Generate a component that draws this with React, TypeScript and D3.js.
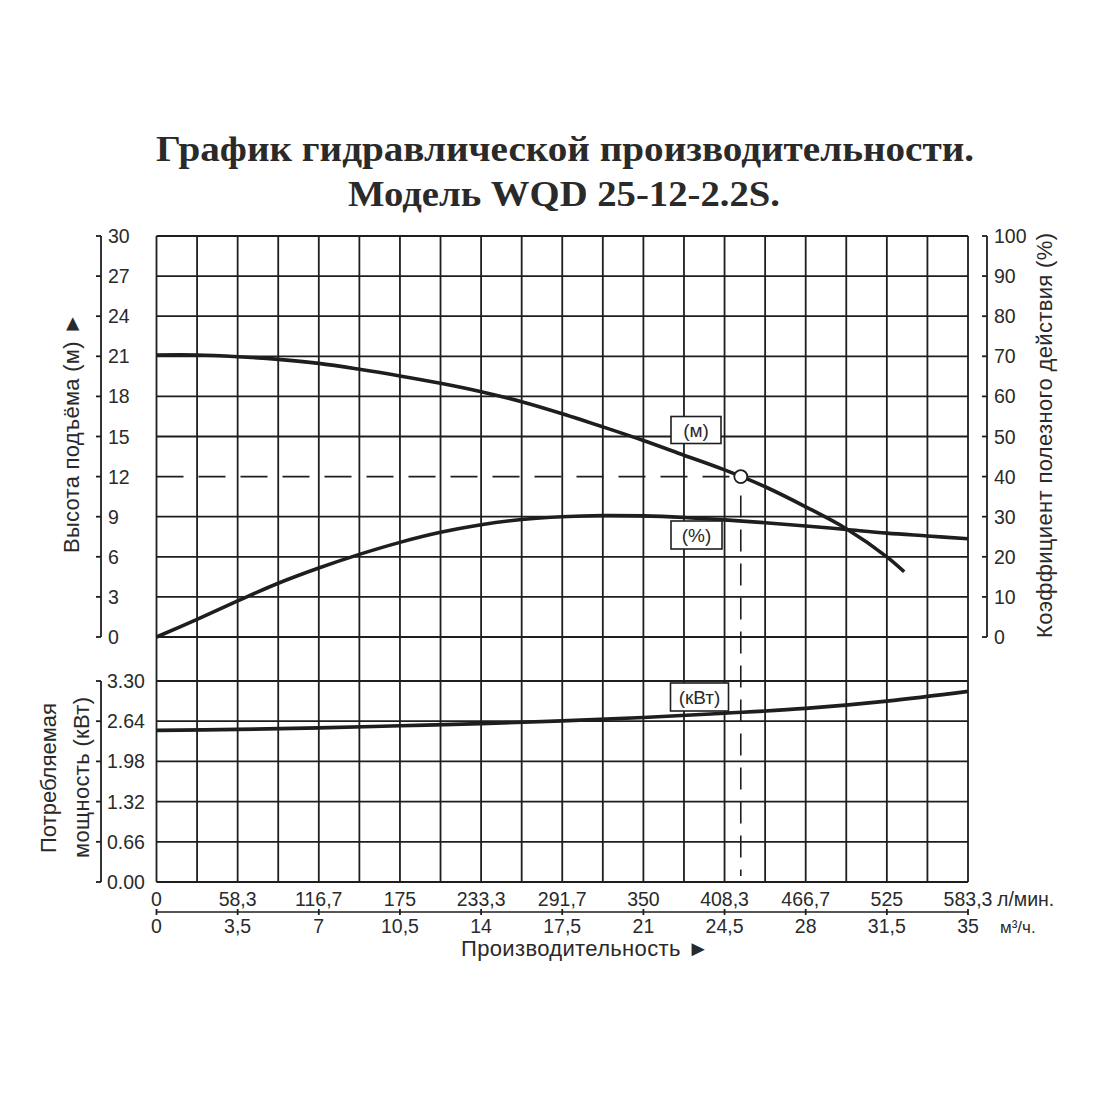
import React from 'react';
import * as d3 from 'd3';

// flow (m³/h) sample points
const headFlow = [0, 1.75, 3.5, 5.25, 7, 8.75, 10.5, 12.25, 14, 15.75, 17.5, 19.25, 21, 22.75, 24.5, 26.25, 28, 29.75, 31.5, 32.25];
const headValues = [21.1, 21.1, 20.97, 20.77, 20.47, 20.03, 19.53, 18.98, 18.35, 17.6, 16.7, 15.72, 14.7, 13.6, 12.5, 11.24, 9.74, 8.1, 6.0, 4.88];

const effFlow = [0, 1.75, 3.5, 5.25, 7, 8.75, 10.5, 12.25, 14, 15.75, 17.5, 19.25, 21, 22.75, 24.5, 26.25, 28, 29.75, 31.5, 33.25, 35];
const effValues = [0, 4.4, 9.0, 13.4, 17.2, 20.6, 23.6, 26.1, 28.0, 29.3, 30.0, 30.3, 30.2, 29.8, 29.2, 28.5, 27.7, 26.8, 25.9, 25.2, 24.5];

const powFlow = [0, 3.5, 7, 10.5, 14, 17.5, 21, 24.5, 28, 31.5, 35];
const powValues = [2.49, 2.505, 2.53, 2.565, 2.6, 2.645, 2.7, 2.77, 2.85, 2.97, 3.13];

const dutyFlow = 25.2;
const dutyHead = 12;

const headTicks = [0, 3, 6, 9, 12, 15, 18, 21, 24, 27, 30];
const effTicks = [0, 10, 20, 30, 40, 50, 60, 70, 80, 90, 100];
const powTicks = [0, 0.66, 1.32, 1.98, 2.64, 3.3];
const flowTicks = [0, 3.5, 7, 10.5, 14, 17.5, 21, 24.5, 28, 31.5, 35];
const lpmLabels = ['0', '58,3', '116,7', '175', '233,3', '291,7', '350', '408,3', '466,7', '525', '583,3'];
const m3Labels = ['0', '3,5', '7', '10,5', '14', '17,5', '21', '24,5', '28', '31,5', '35'];

const ink = '#1e1e1e';
const txt = '#2a2a2a';
const sans = '"Liberation Sans", Arial, sans-serif';
const serif = '"Liberation Serif", "Times New Roman", serif';

const App: React.FC = () => {
    const x = d3.scaleLinear().domain([0, 35]).range([156.5, 968]);
    const yHead = d3.scaleLinear().domain([0, 30]).range([637, 236]);
    const yEff = d3.scaleLinear().domain([0, 100]).range([637, 236]);
    const yPow = d3.scaleLinear().domain([0, 3.3]).range([882, 681]);

    const gridX = d3.range(0, 35.001, 1.75);

    const smooth = d3.curveCatmullRom.alpha(0.5);
    const headLine = d3.line<number>().x((_, i) => x(headFlow[i])).y(d => yHead(d)).curve(smooth);
    const effLine = d3.line<number>().x((_, i) => x(effFlow[i])).y(d => yEff(d)).curve(smooth);
    const powLine = d3.line<number>().x((_, i) => x(powFlow[i])).y(d => yPow(d)).curve(smooth);

    const dx = x(dutyFlow);
    const dy = yHead(dutyHead);

    const labelBox = (cx: number, cy: number, w: number, h: number, label: string) => (
        <g>
            <rect x={cx - w / 2} y={cy - h / 2} width={w} height={h} fill="#fff" stroke={ink} strokeWidth={1.6} />
            <text x={cx} y={cy} dy="0.36em" textAnchor="middle" fontFamily={sans} fontSize={19} fill={txt}>{label}</text>
        </g>
    );

    return (
        <svg width={1100} height={1100} style={{ position: 'absolute', left: 0, top: 0, background: '#fff' }}>
            {/* title */}
            <text x={565} y={161} textAnchor="middle" fontFamily={serif} fontWeight="bold" fontSize={36} fill={txt}
                textLength={818} lengthAdjust="spacingAndGlyphs">График гидравлической производительности.</text>
            <text x={564} y={206} textAnchor="middle" fontFamily={serif} fontWeight="bold" fontSize={36} fill={txt}
                textLength={432} lengthAdjust="spacingAndGlyphs">Модель WQD 25-12-2.2S.</text>

            {/* grid */}
            <g stroke={ink} strokeWidth={1.8}>
                {gridX.map((q, i) => (
                    <line key={'v' + i} x1={x(q)} x2={x(q)} y1={236} y2={882} />
                ))}
                {headTicks.map(t => t === dutyHead ? (
                    <line key={'h' + t} x1={dx} x2={x(35)} y1={yHead(t)} y2={yHead(t)} />
                ) : (
                    <line key={'h' + t} x1={x(0)} x2={x(35)} y1={yHead(t)} y2={yHead(t)} />
                ))}
                {powTicks.map(t => (
                    <line key={'p' + t} x1={x(0)} x2={x(35)} y1={yPow(t)} y2={yPow(t)} />
                ))}
            </g>

            {/* duty point guides */}
            <line x1={x(0)} x2={dx} y1={dy} y2={dy} stroke={ink} strokeWidth={1.6} strokeDasharray="27 15" />
            <line x1={dx} x2={dx} y1={dy + 19} y2={876} stroke={ink} strokeWidth={1.6} strokeDasharray="22 12" />

            {/* curves */}
            <path d={effLine(effValues) || ''} fill="none" stroke={ink} strokeWidth={3.6} />
            <path d={headLine(headValues) || ''} fill="none" stroke={ink} strokeWidth={3.6} />
            <path d={powLine(powValues) || ''} fill="none" stroke={ink} strokeWidth={3.6} />

            <circle cx={dx} cy={dy} r={6.5} fill="#fff" stroke={ink} strokeWidth={1.8} />

            {labelBox(696, 430, 50, 27, '(м)')}
            {labelBox(696.5, 535, 51, 28, '(%)')}
            {labelBox(699.5, 697, 58, 28, '(кВт)')}

            {/* left head axis */}
            <g fontFamily={sans} fontSize={19.5} fill={txt}>
                <line x1={101} x2={101} y1={yHead(0)} y2={yHead(30)} stroke={ink} strokeWidth={1.8} />
                {headTicks.map(t => (
                    <g key={'lh' + t}>
                        <line x1={96} x2={101} y1={yHead(t)} y2={yHead(t)} stroke={ink} strokeWidth={1.8} />
                        <text x={108} y={yHead(t)} dy="0.36em">{t}</text>
                    </g>
                ))}
                <text transform={`translate(79,433) rotate(-90)`} textAnchor="middle" fontSize={22}
                    textLength={240} lengthAdjust="spacing">Высота подъёма (м) ►</text>
            </g>

            {/* right efficiency axis */}
            <g fontFamily={sans} fontSize={19.5} fill={txt}>
                <line x1={987} x2={987} y1={yEff(0)} y2={yEff(100)} stroke={ink} strokeWidth={1.8} />
                {effTicks.map(t => (
                    <g key={'re' + t}>
                        <line x1={982} x2={987} y1={yEff(t)} y2={yEff(t)} stroke={ink} strokeWidth={1.8} />
                        <text x={994} y={yEff(t)} dy="0.36em">{t}</text>
                    </g>
                ))}
                <text transform={`translate(1052,435.5) rotate(-90)`} textAnchor="middle" fontSize={22}
                    textLength={405} lengthAdjust="spacing">Коэффициент полезного действия (%)</text>
            </g>

            {/* lower power axis */}
            <g fontFamily={sans} fontSize={19.5} fill={txt}>
                <line x1={101} x2={101} y1={yPow(0)} y2={yPow(3.3)} stroke={ink} strokeWidth={1.8} />
                {powTicks.map(t => (
                    <g key={'lp' + t}>
                        <line x1={96} x2={101} y1={yPow(t)} y2={yPow(t)} stroke={ink} strokeWidth={1.8} />
                        <text x={107} y={yPow(t)} dy="0.36em">{t.toFixed(2)}</text>
                    </g>
                ))}
                <text transform={`translate(56,778) rotate(-90)`} textAnchor="middle" fontSize={22}
                    textLength={150} lengthAdjust="spacing">Потребляемая</text>
                <text transform={`translate(89,777.5) rotate(-90)`} textAnchor="middle" fontSize={22}
                    textLength={161} lengthAdjust="spacing">мощность (кВт)</text>
            </g>

            {/* flow axis */}
            <g fontFamily={sans} fontSize={19.5} fill={txt}>
                <line x1={x(0)} x2={x(35)} y1={912} y2={912} stroke={ink} strokeWidth={1.6} />
                {flowTicks.map((q, i) => (
                    <g key={'fx' + q}>
                        <line x1={x(q)} x2={x(q)} y1={909} y2={915} stroke={ink} strokeWidth={1.8} />
                        <text x={x(q)} y={906} textAnchor="middle">{lpmLabels[i]}</text>
                        <text x={x(q)} y={933} textAnchor="middle">{m3Labels[i]}</text>
                    </g>
                ))}
                <text x={997} y={906}>л/мин.</text>
                <text x={1000} y={933} fontSize={17}>м³/ч.</text>
                <text x={461} y={956} fontSize={22} textLength={248} lengthAdjust="spacing">Производительность ►</text>
            </g>
        </svg>
    );
};

export default App;
